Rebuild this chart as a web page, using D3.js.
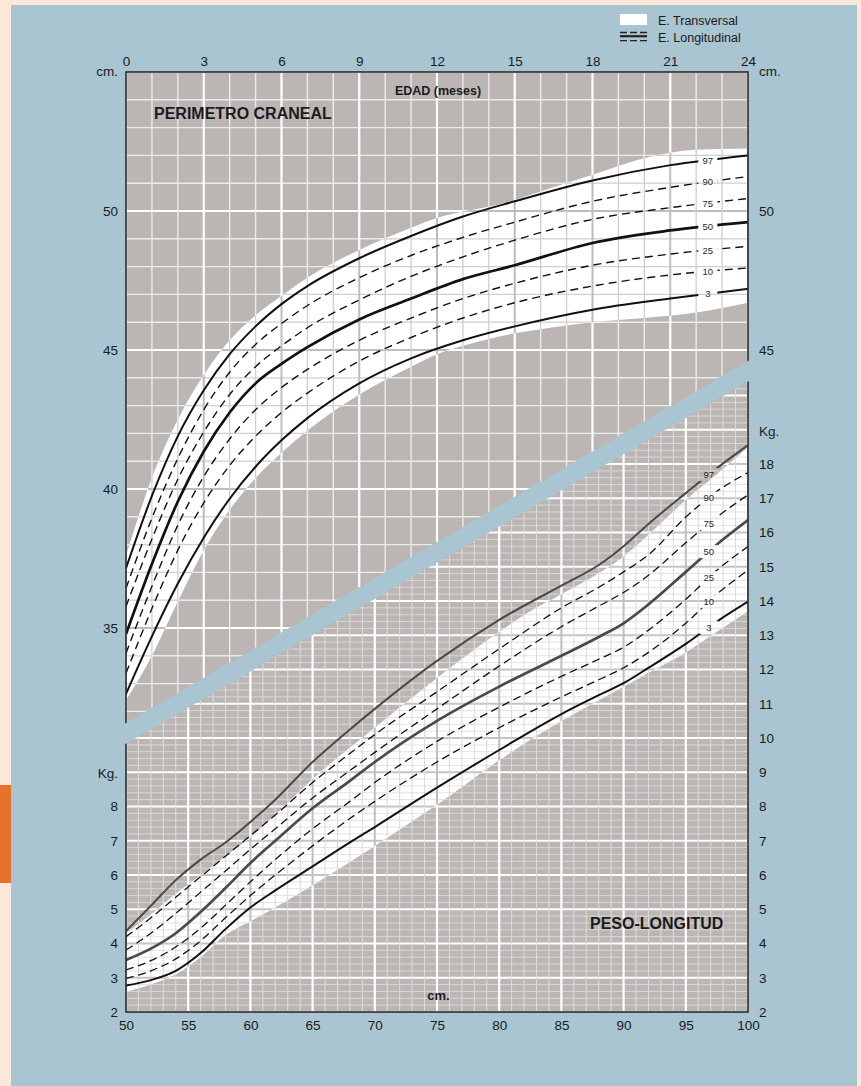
<!DOCTYPE html>
<html lang="es">
<head>
<meta charset="utf-8">
<title>Perímetro craneal y peso-longitud</title>
<script src="https://cdn.jsdelivr.net/npm/d3@7"></script>
<style>
  html, body { margin: 0; padding: 0; background: #a9c5d1; }
  svg { display: block; }
  text { font-family: "Liberation Sans", Arial, Helvetica, sans-serif; }
</style>
</head>
<body>
<svg id="chart" width="861" height="1086"></svg>
<script>
// ---------- Perímetro craneal (cm) según edad (meses) ----------
const headMonths = [0, 1, 2, 3, 4, 5, 6, 7, 9, 11, 13, 15, 18, 21, 24];
const headP97 = [37.15, 39.75, 41.9, 43.55, 44.85, 45.85, 46.65, 47.3, 48.3, 49.1, 49.8, 50.35, 51.1, 51.65, 52.0];
const headP90 = [36.43, 38.95, 41.1, 42.85, 44.2, 45.2, 45.95, 46.6, 47.6, 48.4, 49.05, 49.6, 50.35, 50.85, 51.24];
const headP75 = [35.77, 38.2, 40.35, 42.05, 43.4, 44.4, 45.15, 45.8, 46.8, 47.65, 48.35, 48.95, 49.7, 50.12, 50.45];
const headP50 = [34.78, 37.3, 39.55, 41.35, 42.75, 43.8, 44.5, 45.1, 46.1, 46.85, 47.55, 48.05, 48.85, 49.3, 49.6];
const headP25 = [34.09, 36.5, 38.7, 40.45, 41.8, 42.85, 43.65, 44.3, 45.35, 46.15, 46.85, 47.4, 48.05, 48.45, 48.73];
const headP10 = [33.37, 35.7, 37.8, 39.5, 40.85, 41.9, 42.75, 43.45, 44.6, 45.45, 46.15, 46.7, 47.3, 47.7, 47.95];
const headP3  = [32.63, 34.7, 36.6, 38.25, 39.65, 40.8, 41.75, 42.55, 43.8, 44.7, 45.35, 45.85, 46.45, 46.85, 47.2];

// Rango del estudio transversal (franja blanca)
const headBandMonths = [0, 1, 2, 3, 4, 5, 6, 7, 9, 11, 12, 13, 14, 15, 16, 18, 20, 22, 24];
const headBandUpper  = [37.6, 40.4, 42.5, 44.1, 45.35, 46.25, 46.95, 47.6, 48.6, 49.4, 49.75, 49.98, 50.15, 50.4, 50.7, 51.3, 51.9, 52.2, 52.25];
const headBandLower  = [32.4, 34.0, 35.95, 37.8, 39.25, 40.4, 41.3, 42.1, 43.4, 44.4, 44.85, 45.15, 45.4, 45.6, 45.75, 46.0, 46.15, 46.35, 46.7];

// ---------- Peso (kg) según longitud (cm) ----------
const weightLengths = [50, 52, 54, 56, 58, 60, 62, 65, 68, 70, 75, 80, 85, 88, 90, 92, 95, 97.5, 100];
const weightP97 = [4.36, 5.1, 5.85, 6.45, 6.95, 7.55, 8.2, 9.3, 10.25, 10.85, 12.25, 13.45, 14.45, 15.05, 15.6, 16.25, 17.15, 17.88, 18.55];
const weightP90 = [4.2, 4.75, 5.35, 5.95, 6.55, 7.15, 7.75, 8.7, 9.55, 10.1, 11.35, 12.6, 13.8, 14.4, 14.85, 15.35, 16.45, 17.2, 17.75];
const weightP75 = [3.81, 4.3, 4.88, 5.5, 6.12, 6.75, 7.35, 8.25, 9.05, 9.58, 10.85, 12.1, 13.25, 13.85, 14.25, 14.75, 15.7, 16.45, 17.1];
const weightP50 = [3.52, 3.85, 4.3, 4.92, 5.62, 6.35, 7.0, 7.95, 8.75, 9.3, 10.5, 11.5, 12.4, 12.95, 13.35, 13.9, 14.85, 15.65, 16.36];
const weightP25 = [3.23, 3.5, 3.9, 4.45, 5.12, 5.8, 6.45, 7.35, 8.15, 8.7, 9.9, 10.9, 11.8, 12.3, 12.65, 13.15, 14.05, 14.9, 15.59];
const weightP10 = [2.98, 3.2, 3.55, 4.08, 4.75, 5.4, 6.0, 6.85, 7.65, 8.15, 9.3, 10.3, 11.2, 11.7, 12.05, 12.5, 13.35, 14.2, 14.9];
const weightP3  = [2.77, 2.93, 3.2, 3.72, 4.42, 5.05, 5.55, 6.25, 6.95, 7.4, 8.55, 9.65, 10.7, 11.25, 11.6, 12.05, 12.75, 13.4, 13.98];

const weightBandLengths = [50, 52, 54, 56, 58, 60, 62, 65, 70, 75, 80, 82.5, 85, 87.5, 90, 92.5, 95, 97.5, 100];
const weightBandUpper   = [4.3, 4.85, 5.45, 6.0, 6.55, 7.1, 7.75, 8.8, 10.3, 11.75, 13.1, 13.7, 14.2, 14.7, 15.3, 16.1, 16.95, 17.7, 18.5];
const weightBandLower   = [2.59, 2.8, 3.1, 3.6, 4.25, 4.65, 5.05, 5.7, 6.85, 8.05, 9.35, 9.95, 10.5, 11.0, 11.5, 12.0, 12.5, 13.1, 13.7];

const percentileNames = ["97", "90", "75", "50", "25", "10", "3"];
const headLabelMonth = 22.45;
const weightLabelLength = 96.85;

// Ejes
const monthTicks = [0, 3, 6, 9, 12, 15, 18, 21, 24];
const headTicksLeft = [35, 40, 45, 50];
const headTicksRight = [45, 50];
const lengthTicks = [50, 55, 60, 65, 70, 75, 80, 85, 90, 95, 100];
const kgTicksLeft = [2, 3, 4, 5, 6, 7, 8];
const kgTicksRight = [2, 3, 4, 5, 6, 7, 8, 9, 10, 11, 12, 13, 14, 15, 16, 17, 18];

// Franja diagonal que separa las dos gráficas (unidades de la gráfica craneal)
const stripeMonths = [0, 24];
const stripeTopCm = [31.58, 44.6];

// ---------- Trazado ----------
const W = 861, H = 1086;
const plot = { left: 126, right: 748, top: 72, bottom: 1012 };
const stripeWidth = 20.5;
const INK = "#1b1b1b";
const BG = "#a9c5d1";

const svg = d3.select("#chart");
const defs = svg.append("defs");

const xMonth = d3.scaleLinear().domain([0, 24]).range([plot.left, plot.right]);
const yCm = d3.scaleLinear().domain([31, 55]).range([plot.top + 24 * 27.8, plot.top]);
const xLen = d3.scaleLinear().domain([50, 100]).range([plot.left, plot.right]);
const yKg = d3.scaleLinear().domain([2, 18]).range([plot.bottom, 464]);

const stripeTop = d3.scaleLinear()
  .domain(stripeMonths.map(xMonth))
  .range(stripeTopCm.map(yCm));
const stripeBot = x => stripeTop(x) + stripeWidth;

// Fondo y bordes de página
svg.append("rect").attr("width", W).attr("height", H).attr("fill", BG);
svg.append("rect").attr("x", 0).attr("y", 0).attr("width", W).attr("height", 5).attr("fill", "#fce8da");
svg.append("rect").attr("x", 0).attr("y", 0).attr("width", 11).attr("height", H).attr("fill", "#fce8da");
svg.append("rect").attr("x", 857).attr("y", 0).attr("width", 4).attr("height", H).attr("fill", "#fce8da");
svg.append("rect").attr("x", 0).attr("y", 785).attr("width", 11).attr("height", 98).attr("fill", "#e8722b");

// Área de trazado
svg.append("rect")
  .attr("x", plot.left).attr("y", plot.top)
  .attr("width", plot.right - plot.left).attr("height", plot.bottom - plot.top)
  .attr("fill", "#bbb6b4");

// Recortes de cada gráfica
const poly = pts => "M" + pts.map(p => p.join(",")).join("L") + "Z";
defs.append("clipPath").attr("id", "clip-head").append("path")
  .attr("d", poly([[plot.left, plot.top], [plot.right, plot.top],
                   [plot.right, stripeTop(plot.right)], [plot.left, stripeTop(plot.left)]]));
defs.append("clipPath").attr("id", "clip-weight").append("path")
  .attr("d", poly([[plot.left, stripeBot(plot.left)], [plot.right, stripeBot(plot.right)],
                   [plot.right, plot.bottom], [plot.left, plot.bottom]]));

function drawGrid(g, xVals, yVals, xs, ys, xStyle, yStyle) {
  g.append("g").selectAll("line").data(yVals).join("line")
    .attr("x1", plot.left).attr("x2", plot.right)
    .attr("y1", d => ys(d)).attr("y2", d => ys(d))
    .attr("stroke", d => yStyle(d)[0]).attr("stroke-width", d => yStyle(d)[1]);
  g.append("g").selectAll("line").data(xVals).join("line")
    .attr("x1", d => xs(d)).attr("x2", d => xs(d))
    .attr("y1", plot.top).attr("y2", plot.bottom)
    .attr("stroke", d => xStyle(d)[0]).attr("stroke-width", d => xStyle(d)[1]);
}

function drawChart(cfg) {
  const root = svg.append("g").attr("clip-path", `url(#${cfg.clip})`);
  const { xs, ys } = cfg;

  // Rejilla sobre fondo gris
  drawGrid(root, cfg.gridX, cfg.gridY, xs, ys, cfg.xStyle, cfg.yStyle);

  // Franja del estudio transversal
  const bandData = cfg.band.x.map((x, i) => ({ x, lo: cfg.band.lo[i], hi: cfg.band.hi[i] }));
  const area = d3.area().x(d => xs(d.x)).y0(d => ys(d.lo)).y1(d => ys(d.hi)).curve(d3.curveMonotoneX);
  root.append("path").attr("d", area(bandData)).attr("fill", "#ffffff");
  defs.append("clipPath").attr("id", cfg.clip + "-band").append("path").attr("d", area(bandData));
  const inBand = root.append("g").attr("clip-path", `url(#${cfg.clip}-band)`);
  drawGrid(inBand, cfg.gridX, cfg.gridY, xs, ys, cfg.xBandStyle, cfg.yBandStyle);

  // Huecos para las etiquetas de percentil
  const labels = cfg.series.map(s => ({
    name: s.name,
    x: cfg.labelX,
    y: d3.scaleLinear().domain(cfg.x).range(s.values)(cfg.labelX)
  }));
  const mask = defs.append("mask").attr("id", cfg.clip + "-gaps")
    .attr("maskUnits", "userSpaceOnUse")
    .attr("x", 0).attr("y", 0).attr("width", W).attr("height", H);
  mask.append("rect").attr("width", W).attr("height", H).attr("fill", "#fff");
  mask.selectAll("rect.gap").data(labels).join("rect").attr("class", "gap")
    .attr("x", d => xs(d.x) - 9.5).attr("y", d => ys(d.y) - 6.5)
    .attr("width", 19).attr("height", 13).attr("fill", "#000");

  // Curvas de percentiles (estudio longitudinal)
  const line = d3.line().x(d => xs(d[0])).y(d => ys(d[1])).curve(d3.curveMonotoneX);
  const curves = root.append("g").attr("mask", `url(#${cfg.clip}-gaps)`).attr("fill", "none");
  cfg.series.forEach(s => {
    curves.append("path")
      .attr("d", line(cfg.x.map((x, i) => [x, s.values[i]])))
      .attr("stroke", s.color)
      .attr("stroke-width", s.width)
      .attr("stroke-dasharray", s.dash || null)
      .attr("stroke-linecap", "butt");
  });

  root.append("g").selectAll("text").data(labels).join("text")
    .attr("x", d => xs(d.x)).attr("y", d => ys(d.y))
    .attr("dy", "0.35em").attr("text-anchor", "middle")
    .attr("font-size", 9.5).attr("fill", "#2a2a2a")
    .text(d => d.name);
}

// Perímetro craneal
const headValues = [headP97, headP90, headP75, headP50, headP25, headP10, headP3];
drawChart({
  clip: "clip-head",
  xs: xMonth, ys: yCm,
  gridX: d3.range(0, 25), gridY: d3.range(31, 56),
  xStyle: d => d % 3 === 0 ? ["#ffffff", 2.2] : ["#ebebeb", 1.4],
  yStyle: d => d % 5 === 0 ? ["#ffffff", 2.2] : ["#ebebeb", 1.4],
  xBandStyle: d => d % 3 === 0 ? ["#bdbdbd", 2] : ["#cfcfcf", 1.3],
  yBandStyle: d => d % 5 === 0 ? ["#bdbdbd", 2] : ["#cfcfcf", 1.3],
  band: { x: headBandMonths, lo: headBandLower, hi: headBandUpper },
  x: headMonths,
  labelX: headLabelMonth,
  series: headValues.map((values, i) => {
    const name = percentileNames[i];
    const solid = name === "97" || name === "50" || name === "3";
    return {
      name, values, color: "#111111",
      width: name === "50" ? 2.7 : solid ? 2 : 1.4,
      dash: solid ? null : "8,5"
    };
  })
});

// Peso-longitud
const weightValues = [weightP97, weightP90, weightP75, weightP50, weightP25, weightP10, weightP3];
drawChart({
  clip: "clip-weight",
  xs: xLen, ys: yKg,
  gridX: d3.range(50, 101),
  gridY: d3.range(10, 148).map(i => i / 5),
  xStyle: d => d % 5 === 0 ? ["#ffffff", 2.2] : ["#dedcdb", 1],
  yStyle: d => Math.abs(d - Math.round(d)) < 1e-6 ? ["#ffffff", 2.2] : ["#d9d7d6", 1],
  xBandStyle: d => d % 5 === 0 ? ["#bfbfbf", 2] : ["#dadada", 1],
  yBandStyle: d => Math.abs(d - Math.round(d)) < 1e-6 ? ["#c4c4c4", 2] : ["#e2e2e2", 1],
  band: { x: weightBandLengths, lo: weightBandLower, hi: weightBandUpper },
  x: weightLengths,
  labelX: weightLabelLength,
  series: weightValues.map((values, i) => {
    const name = percentileNames[i];
    const grey = name === "97" || name === "50";
    const solid = grey || name === "3";
    return {
      name, values,
      color: grey ? "#4a4a47" : "#111111",
      width: name === "50" ? 2.7 : solid ? 2 : 1.3,
      dash: solid ? null : "8,4.5"
    };
  })
});

// Marco
svg.append("rect")
  .attr("x", plot.left).attr("y", plot.top)
  .attr("width", plot.right - plot.left).attr("height", plot.bottom - plot.top)
  .attr("fill", "none").attr("stroke", "#2b2b2b").attr("stroke-width", 1.6);

// Franja separadora
svg.append("path")
  .attr("d", poly([[100, stripeTop(100)], [790, stripeTop(790)], [790, stripeBot(790)], [100, stripeBot(100)]]))
  .attr("fill", BG);

// Ejes (solo rótulos)
function axis(gen, tx, ty) {
  const g = svg.append("g").attr("transform", `translate(${tx},${ty})`).call(gen);
  g.select(".domain").remove();
  g.selectAll(".tick line").remove();
  g.attr("font-size", 13.5).attr("font-family", null);
  g.selectAll("text").attr("fill", INK);
  return g;
}
axis(d3.axisTop(xMonth).tickValues(monthTicks).tickSize(0).tickPadding(6), 0, plot.top);
axis(d3.axisBottom(xLen).tickValues(lengthTicks).tickSize(0).tickPadding(8), 0, plot.bottom);
axis(d3.axisLeft(yCm).tickValues(headTicksLeft).tickSize(0).tickPadding(8), plot.left, 0);
axis(d3.axisRight(yCm).tickValues(headTicksRight).tickSize(0).tickPadding(11), plot.right, 0);
axis(d3.axisLeft(yKg).tickValues(kgTicksLeft).tickSize(0).tickPadding(8), plot.left, 0);
axis(d3.axisRight(yKg).tickValues(kgTicksRight).tickSize(0).tickPadding(11), plot.right, 0);

// Unidades y títulos
const txt = (x, y, s, opts = {}) => svg.append("text")
  .attr("x", x).attr("y", y).text(s)
  .attr("font-size", opts.size || 13.5)
  .attr("font-weight", opts.bold ? "bold" : null)
  .attr("text-anchor", opts.anchor || "start")
  .attr("fill", INK);

txt(plot.left - 8, 76, "cm.", { anchor: "end" });
txt(plot.right + 11, 76, "cm.");
txt(plot.left - 8, 778, "Kg.", { anchor: "end" });
txt(plot.right + 11, 436, "Kg.");
txt(438, 95, "EDAD (meses)", { bold: true, anchor: "middle", size: 12.5 });
txt(154, 119, "PERIMETRO CRANEAL", { bold: true, size: 16 });
txt(590, 928.5, "PESO-LONGITUD", { bold: true, size: 16 });
txt(438.5, 999.5, "cm.", { bold: true, anchor: "middle", size: 13 });

// Leyenda
const legend = svg.append("g");
legend.append("rect").attr("x", 620).attr("y", 14).attr("width", 27).attr("height", 11).attr("fill", "#ffffff");
legend.append("line").attr("x1", 620).attr("x2", 647).attr("y1", 32.5).attr("y2", 32.5)
  .attr("stroke", "#222").attr("stroke-width", 1.3).attr("stroke-dasharray", "7,3");
legend.append("line").attr("x1", 620).attr("x2", 647).attr("y1", 36.2).attr("y2", 36.2)
  .attr("stroke", "#222").attr("stroke-width", 2.2);
legend.append("line").attr("x1", 620).attr("x2", 647).attr("y1", 40.7).attr("y2", 40.7)
  .attr("stroke", "#222").attr("stroke-width", 1.3).attr("stroke-dasharray", "7,3");
txt(658, 24.5, "E. Transversal", { size: 12.5 });
txt(658, 42, "E. Longitudinal", { size: 12.5 });
</script>
</body>
</html>
